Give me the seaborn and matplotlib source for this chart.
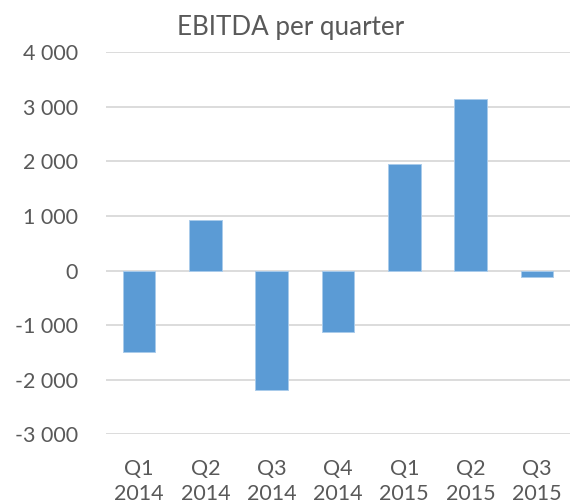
import matplotlib
matplotlib.use("Agg")
import matplotlib.pyplot as plt
import seaborn as sns
import pandas as pd
from matplotlib.ticker import FuncFormatter, MultipleLocator

# ---- data ----
quarters = ["Q1\n2014", "Q2\n2014", "Q3\n2014", "Q4\n2014", "Q1\n2015", "Q2\n2015", "Q3\n2015"]
ebitda = [-1490, 930, -2180, -1120, 1950, 3150, -120]

df = pd.DataFrame({"quarter": quarters, "ebitda": ebitda})

sns.set_theme(style="white")
plt.rcParams["font.family"] = ["Lato", "DejaVu Sans"]

text_col = "#595959"
grid_col = "#D9D9D9"
bar_col = "#5B9BD5"

fig = plt.figure(figsize=(5.7, 5.04), dpi=100)
ax = fig.add_axes([0.186, 0.1383, 0.814, 0.7579])

sns.barplot(data=df, x="quarter", y="ebitda", color=bar_col, saturation=1,
            width=0.49, edgecolor="#A9CBEB", linewidth=0.7, ax=ax)

ax.set_xlim(-0.5, len(quarters) - 0.5)
ax.set_ylim(-3000, 4000)
ax.yaxis.set_major_locator(MultipleLocator(1000))
ax.yaxis.set_major_formatter(FuncFormatter(lambda v, p: f"{int(v):,}".replace(",", " ")))
ax.set_axisbelow(True)
ax.yaxis.grid(True, color=grid_col, linewidth=1.3)
ax.xaxis.grid(False)
for s in ax.spines.values():
    s.set_visible(False)

ax.set_xlabel("")
ax.set_ylabel("")
ax.tick_params(axis="both", length=0, colors=text_col, labelsize=15.5)
ax.tick_params(axis="x", pad=18)
ax.tick_params(axis="y", pad=20)
for t in ax.get_xticklabels():
    t.set_linespacing(1.3)

fig.text(0.51, 0.946, "EBITDA per quarter", ha="center", va="center",
         fontsize=18.7, color=text_col)

fig.savefig("out.png", dpi=100, facecolor="white")
